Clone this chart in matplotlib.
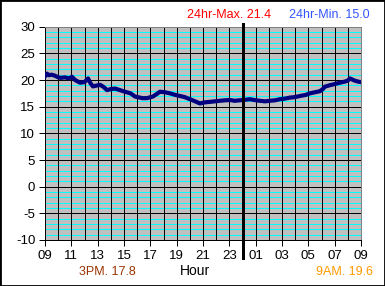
import matplotlib
matplotlib.use("Agg")
import matplotlib.pyplot as plt
from matplotlib.patches import Rectangle

plt.rcParams['font.family'] = ['Liberation Sans', 'DejaVu Sans']

# hours elapsed since 09:00
hours = [0.0, 0.15, 0.3, 0.5, 0.76, 1.0, 1.2, 1.52, 1.8, 2.05, 2.28, 2.66, 3.0, 3.27,
         3.45, 3.64, 4.18, 4.45, 4.71, 5.0, 5.32, 5.7, 6.07, 6.5, 6.83, 7.4, 7.74, 8.2,
         8.5, 8.73, 9.1, 9.49, 9.9, 10.25, 10.6, 11.01, 11.4, 11.77, 12.1, 12.53, 12.9,
         13.29, 13.7, 14.05, 14.4, 14.81, 15.2, 15.57, 16.0, 16.33, 16.7, 17.08, 17.5,
         17.84, 18.2, 18.6, 19.0, 19.36, 19.8, 20.12, 20.5, 20.88, 21.1, 21.26, 21.6,
         22.02, 22.4, 22.78, 23.0, 23.16, 23.5, 23.77, 24.0]
temps = [20.7, 21.2, 20.9, 21.0, 20.8, 20.5, 20.4, 20.5, 20.3, 20.6, 20.0, 19.5, 19.6, 20.3,
         19.4, 18.8, 19.1, 18.7, 18.1, 18.3, 18.4, 18.1, 17.8, 17.5, 16.9, 16.6, 16.6, 16.9,
         17.4, 17.8, 17.7, 17.5, 17.2, 17.0, 16.8, 16.4, 16.0, 15.6, 15.8, 15.9, 16.0,
         16.1, 16.2, 16.25, 16.1, 16.2, 16.3, 16.4, 16.2, 16.1, 16.0, 16.1, 16.2,
         16.4, 16.5, 16.7, 16.8, 17.0, 17.2, 17.5, 17.7, 17.9, 18.3, 18.75, 19.0,
         19.25, 19.5, 19.7, 19.9, 20.3, 19.9, 19.7, 19.6]

xtick_labels = ['09', '11', '13', '15', '17', '19', '21', '23', '01', '03', '05', '07', '09']
yticks = [-10, -5, 0, 5, 10, 15, 20, 25, 30]

max_text = '24hr-Max. 21.4'
min_text = '24hr-Min. 15.0'
pm_text = '3PM. 17.8'
am_text = '9AM. 19.6'

fig = plt.figure(figsize=(3.85, 2.86), dpi=100)
ax = fig.add_axes([45/385, 1-240/286, (361-45)/385, (240-26.67)/286])
ax.set_facecolor('#c0c0c0')
ax.set_xlim(0, 24)
ax.set_ylim(-10, 30)

px = 0.72  # one pixel in points at 100 dpi

# cyan minor horizontal lines
for v in range(-10, 31):
    if v % 5 != 0:
        ax.axhline(v, color='#00ffff', lw=px, zorder=1, antialiased=False)
for v in yticks:
    ax.axhline(v, color='black', lw=px, zorder=1.5, antialiased=False)
for h in range(25):
    ax.axvline(h, color='black', lw=px, zorder=1.5, antialiased=False)

ax.plot(hours, temps, color='#000080', lw=3.0, zorder=3)

ax.plot([15, 15], [-13.4, 30.5], color='black', lw=3*px, clip_on=False, zorder=4,
        antialiased=False)

ax.set_xticks(range(0, 25, 2))
ax.set_xticklabels(xtick_labels)
ax.set_yticks(yticks)
ax.set_yticklabels([str(v) for v in yticks])
ax.tick_params(axis='both', length=4, width=px, color='black', labelsize=9.5, pad=3, direction='out')

for s in ['left', 'bottom']:
    ax.spines[s].set_color('black')
    ax.spines[s].set_linewidth(px)
for s in ['top', 'right']:
    ax.spines[s].set_color('#808080')
    ax.spines[s].set_linewidth(px)

fig.text(229/385, 1-15/286, max_text, color='#ff0000', fontsize=9, ha='center', va='center')
fig.text(329/385, 1-15/286, min_text, color='#3355ff', fontsize=9, ha='center', va='center')
fig.text(107/385, 1-272/286, pm_text, color='#993300', fontsize=9, ha='center', va='center')
fig.text(195/385, 1-271/286, 'Hour', color='black', fontsize=10, ha='center', va='center')
fig.text(344/385, 1-272/286, am_text, color='#ff9900', fontsize=9, ha='center', va='center')

fig.patches.append(Rectangle((0, 0), 1, 1, transform=fig.transFigure, fill=False,
                             edgecolor='black', lw=2))

fig.savefig('out.png', dpi=100)
